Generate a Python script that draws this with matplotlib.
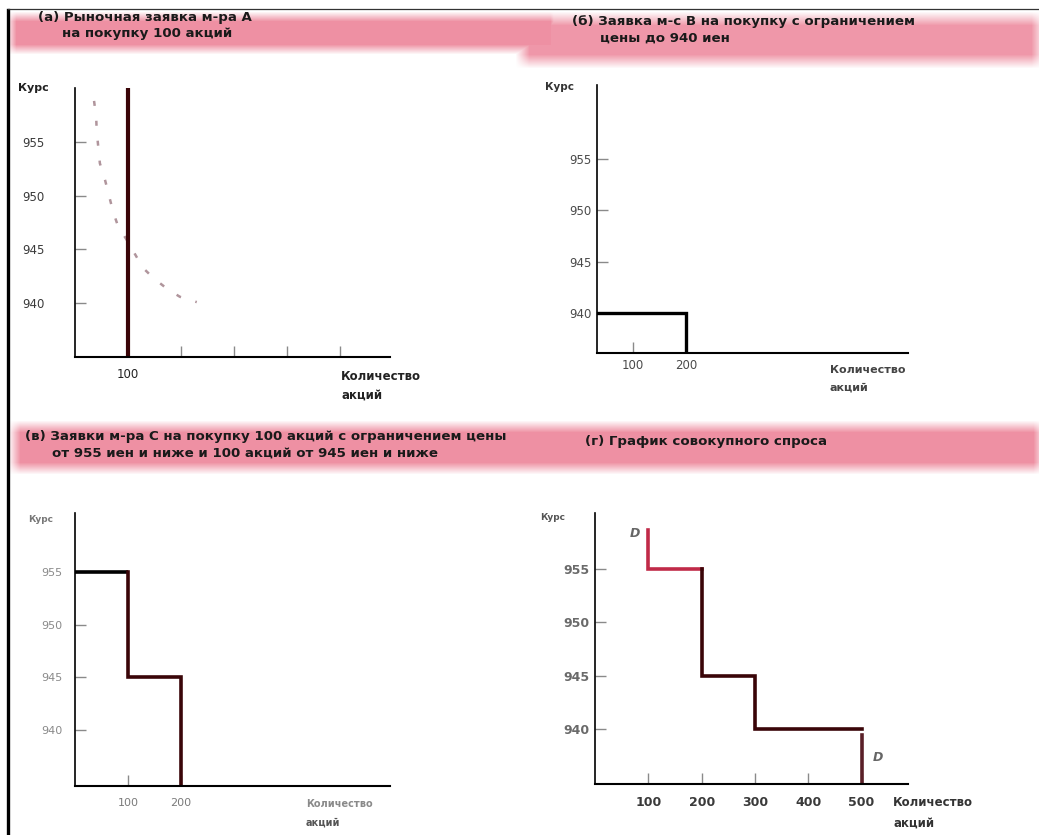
import numpy as np
import matplotlib
matplotlib.use('Agg')
import matplotlib.pyplot as plt

W, H = 1039, 835

# ---- данные ----
price_ticks = [940, 945, 950, 955]
qty_ticks = [100, 200, 300, 400, 500]

# (а) рыночная заявка и кривая спроса (пунктир)
market_qty = 100
curve_q = [36, 40, 41, 47, 57, 72, 81, 100, 128, 149, 175, 198, 230]
curve_p = [958.8, 957.3, 956.0, 953.0, 951.4, 948.5, 947.2, 945.7, 943.3, 942.3, 941.3, 940.6, 940.1]

# (б) лимитная заявка до 940 иен на 200 акций
b_q = [0, 200, 200]
b_p = [940, 940, 930]

# (в) две лимитные заявки
c_q = [0, 100, 100, 200, 200]
c_p = [955, 955, 945, 945, 930]

# (г) совокупный спрос
d_top_q = [100, 100, 200]
d_top_p = [958.7, 955, 955]
d_q = [200, 200, 300, 300, 500]
d_p = [955, 945, 945, 940, 940]
d_tail_q = [500, 500]
d_tail_p = [939.4, 930]

titles = {
    'a': ['(а) Рыночная заявка м-ра А', 'на покупку 100 акций'],
    'b': ['(б) Заявка м-с В на покупку с ограничением', 'цены до 940 иен'],
    'c': ['(в) Заявки м-ра С на покупку 100 акций с ограничением цены',
          'от 955 иен и ниже и 100 акций от 945 иен и ниже'],
    'd': ['(г) График совокупного спроса'],
}


def box(x0, y0, x1, y1):
    return [x0 / W, 1 - y1 / H, (x1 - x0) / W, (y1 - y0) / H]


def px(x, y):
    return x / W, 1 - y / H


fig = plt.figure(figsize=(W / 100, H / 100), dpi=100)
fig.patch.set_facecolor('white')

# розовые полосы под заголовками
bg = fig.add_axes([0, 0, 1, 1], zorder=-5)
bg.set_axis_off()
yy, xx = np.mgrid[0:H, 0:W]


def band(x0, x1, y0, y1, soft=5.0, strength=0.8):
    fx = np.clip((xx - x0) / soft, 0, 1) * np.clip((x1 - xx) / soft, 0, 1)
    fy = np.clip((yy - y0) / soft, 0, 1) * np.clip((y1 - yy) / soft, 0, 1)
    return fx * fy * strength


alpha = np.maximum.reduce([
    band(6, 560, 11, 54, 10, 0.8),
    band(515, 1045, 11, 68, 14, 0.75),
    band(8, 1045, 420, 474, 12, 0.8),
])
img = np.ones((H, W, 4))
img[..., 0] = 0.92
img[..., 1] = 0.46
img[..., 2] = 0.55
img[..., 3] = alpha
bg.imshow(img, extent=[0, 1, 0, 1], aspect='auto', interpolation='bilinear')
bg.set_xlim(0, 1)
bg.set_ylim(0, 1)

# рамка страницы
fig.add_artist(plt.Line2D([8 / W, 8 / W], [0, 1 - 10 / H], color='black', lw=2.4))
fig.add_artist(plt.Line2D([8 / W, 1], [1 - 9 / H, 1 - 9 / H], color='#333333', lw=0.9))

title_kw = dict(fontsize=9.6, fontweight='bold', color='#1a1a1a', va='center', ha='left')


def draw_title(lines, x, y, indent):
    for i, s in enumerate(lines):
        fig.text(*px(x + (indent if i else 0), y + i * 16), s, **title_kw)


draw_title(titles['a'], 38, 17, 24)
draw_title(titles['b'], 572, 22, 28)
draw_title(titles['c'], 25, 437, 27)
draw_title(titles['d'], 585, 442, 0)


def setup(ax, xlim, ylim, xt, xl, ycol, xcol, ypad, xpad, size=8.5, weight='normal'):
    ax.set_xlim(*xlim)
    ax.set_ylim(*ylim)
    for s in ['top', 'right']:
        ax.spines[s].set_visible(False)
    ax.spines['left'].set_linewidth(1.2)
    ax.spines['bottom'].set_linewidth(1.5)
    ax.set_facecolor('none')
    ax.set_yticks(price_ticks)
    ax.set_yticklabels([str(p) for p in price_ticks], color=ycol, fontsize=size, fontweight=weight)
    ax.set_xticks(xt)
    ax.set_xticklabels(xl, color=xcol, fontsize=size, fontweight=weight)
    ax.tick_params(axis='y', direction='in', length=8, width=1.0, color='#8a8a8a', pad=ypad)
    ax.tick_params(axis='x', direction='in', length=8, width=1.0, color='#8a8a8a', pad=xpad)


# (а)
ax1 = fig.add_axes(box(75, 88, 390, 357))
setup(ax1, (0, 595), (935, 960), qty_ticks, ['100', '', '', '', ''],
      '#3a3a3a', '#222222', 22, 8)
ax1.plot(curve_q, curve_p, color='#b0959c', lw=1.8, ls=(0, (2, 6)))
ax1.plot([market_qty, market_qty], [935, 960], color='#3a0508', lw=3.0, solid_capstyle='butt')
fig.text(*px(18, 88), 'Курс', fontsize=8, fontweight='bold', color='#222222', va='center')
fig.text(*px(341, 377), 'Количество', fontsize=8.5, fontweight='bold', color='#222222', va='center')
fig.text(*px(341, 395), 'акций', fontsize=8.5, fontweight='bold', color='#222222', va='center')

# (б)
ax2 = fig.add_axes(box(597, 85, 908, 353))
setup(ax2, (32, 619), (936.1, 962.2), [100, 200], ['100', '200'],
      '#4a4a4a', '#4a4a4a', 4, 4)
ax2.plot(b_q, b_p, color='black', lw=2.4, solid_joinstyle='miter')
fig.text(*px(545, 87), 'Курс', fontsize=7.5, fontweight='bold', color='#333333', va='center')
fig.text(*px(830, 370), 'Количество', fontsize=8, fontweight='bold', color='#444444', va='center')
fig.text(*px(830, 388), 'акций', fontsize=8, fontweight='bold', color='#444444', va='center')

# (в)
ax3 = fig.add_axes(box(75, 513, 390, 786))
setup(ax3, (0, 595), (934.7, 960.6), [100, 200], ['100', '200'],
      '#8a8a8a', '#7a7a7a', 9, 9, size=8)
ax3.plot(c_q[:2], c_p[:2], color='black', lw=2.6, solid_capstyle='butt')
ax3.plot(c_q[1:], c_p[1:], color='#3a0508', lw=2.6, solid_joinstyle='miter')
fig.text(*px(28, 519), 'Курс', fontsize=6.5, fontweight='bold', color='#777777', va='center')
fig.text(*px(306, 804), 'Количество', fontsize=7, fontweight='bold', color='#8a8a8a', va='center')
fig.text(*px(306, 823), 'акций', fontsize=7, fontweight='bold', color='#555555', va='center')

# (г)
ax4 = fig.add_axes(box(595, 513, 908, 784))
setup(ax4, (0, 587), (934.85, 960.25), qty_ticks, [str(q) for q in qty_ticks],
      '#6a6a6a', '#3a3a3a', 4, 9, size=9, weight='bold')
ax4.plot(d_top_q, d_top_p, color='#c02a48', lw=2.6, solid_joinstyle='miter')
ax4.plot(d_q, d_p, color='#3a0508', lw=2.6, solid_joinstyle='miter')
ax4.plot(d_tail_q, d_tail_p, color='#5a2028', lw=2.6)
ax4.text(75, 958.3, 'D', fontsize=9, fontstyle='italic', fontweight='bold', color='#666666',
         ha='center', va='center')
ax4.text(530, 937.3, 'D', fontsize=9, fontstyle='italic', fontweight='bold', color='#666666',
         ha='center', va='center')
fig.text(*px(540, 518), 'Курс', fontsize=6.5, fontweight='bold', color='#555555', va='center')
fig.text(*px(893, 803), 'Количество', fontsize=8.5, fontweight='bold', color='#333333', va='center')
fig.text(*px(893, 823), 'акций', fontsize=8.5, fontweight='bold', color='#333333', va='center')

fig.savefig('out.png', dpi=100)
